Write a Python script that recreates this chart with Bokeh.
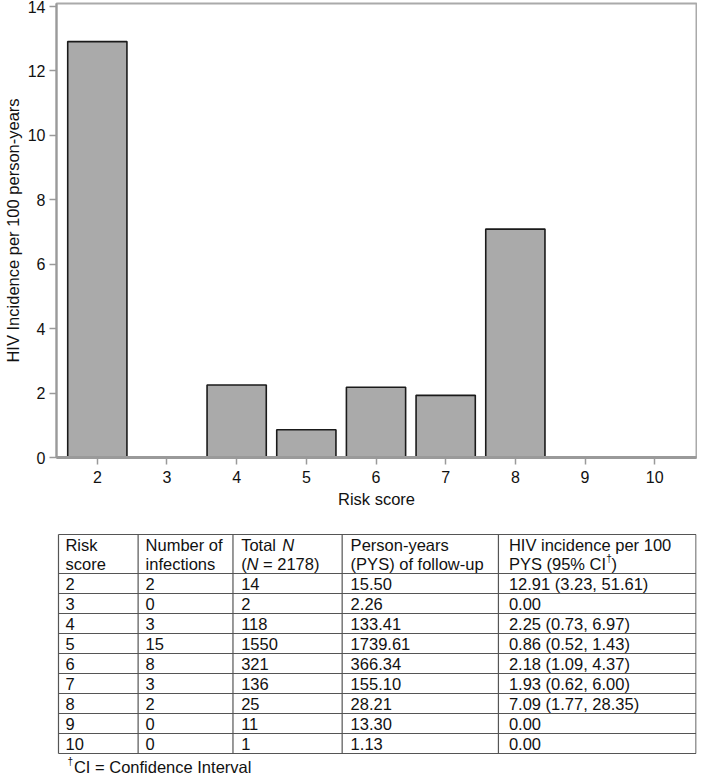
from bokeh.plotting import figure
from bokeh.models import Range1d, ColumnDataSource
from bokeh.layouts import column
from bokeh.embed import file_html
from bokeh.resources import INLINE
from bokeh.core.properties import value

# ---------------- data ----------------
risk_scores = [2, 3, 4, 5, 6, 7, 8, 9, 10]
incidence = [12.91, 0.0, 2.25, 0.86, 2.18, 1.93, 7.09, 0.0, 0.0]
y_ticks = [0, 2, 4, 6, 8, 10, 12, 14]

infections = [2, 0, 3, 15, 8, 3, 2, 0, 0]
total_n = [14, 2, 118, 1550, 321, 136, 25, 11, 1]
person_years = ["15.50", "2.26", "133.41", "1739.61", "366.34", "155.10", "28.21", "13.30", "1.13"]
incidence_ci = ["12.91 (3.23, 51.61)", "0.00", "2.25 (0.73, 6.97)", "0.86 (0.52, 1.43)",
                "2.18 (1.09, 4.37)", "1.93 (0.62, 6.00)", "7.09 (1.77, 28.35)", "0.00", "0.00"]

x_label = "Risk score"
y_label = "HIV Incidence per 100 person-years"
footnote = "CI = Confidence Interval"

FONT = "Liberation Sans"
TXT = "#111111"

# ---------------- chart ----------------
W = 697
LB, RB = 53, 1          # frame borders (figure px)
CH = 525
p = figure(width=W, height=CH, output_backend="svg", toolbar_location=None,
           x_range=Range1d(1.414, 10.6), y_range=Range1d(0, 14.093),
           min_border_left=LB, min_border_right=RB, min_border_top=3, min_border_bottom=68)

src = ColumnDataSource(dict(x=risk_scores, top=incidence))
p.vbar(x="x", top="top", bottom=0, width=0.85, source=src,
       fill_color="#aaaaaa", line_color="#1a1a1a", line_width=1.6)

p.xgrid.visible = False
p.ygrid.visible = False
p.xaxis.ticker = risk_scores
p.yaxis.ticker = y_ticks
p.axis.axis_line_color = "#9a9a9a"
p.xaxis.axis_line_width = 3
p.yaxis.axis_line_width = 2
p.axis.major_tick_line_color = "#9a9a9a"
p.axis.major_tick_line_width = 1.5
p.axis.major_tick_out = 7
p.axis.major_tick_in = 0
p.axis.minor_tick_line_color = None
p.axis.major_label_text_font = FONT
p.axis.major_label_text_font_size = "16px"
p.axis.major_label_text_color = TXT
p.yaxis.major_label_standoff = 4
p.xaxis.major_label_standoff = 6
p.axis.axis_label_text_font = FONT
p.axis.axis_label_text_font_size = "16.5px"
p.axis.axis_label_text_font_style = "normal"
p.axis.axis_label_text_color = TXT
p.xaxis.axis_label = x_label
p.yaxis.axis_label = y_label
p.xaxis.axis_label_standoff = 4
p.yaxis.axis_label_standoff = 3
p.outline_line_color = "#aaaaaa"
p.outline_line_width = 2

# ---------------- table (data coordinates = page pixels) ----------------
PAGE = 8
TH = 784 - PAGE - CH          # 251
y_top_page = PAGE + CH        # 533
t = figure(width=W, height=TH, output_backend="svg", toolbar_location=None,
           x_range=Range1d(PAGE + LB, PAGE + W - RB), y_range=Range1d(y_top_page + TH, y_top_page),
           x_axis_type=None, y_axis_type=None,
           min_border_left=LB, min_border_right=RB, min_border_top=0, min_border_bottom=0)
t.xgrid.visible = False
t.ygrid.visible = False
t.outline_line_color = None

col_edges = [63, 143, 238.3, 348, 505, 703.5]
col_x = [70, 150.5, 246.5, 356.5, 515.5]
top_y = 542
head_bottom = 581
row_h = 20
n_rows = len(risk_scores)
row_lines = [head_bottom + row_h * k for k in range(n_rows + 1)]
h_lines = [top_y] + row_lines
bottom_y = row_lines[-1]

t.segment(x0=[col_edges[0]] * len(h_lines), x1=[col_edges[-1]] * len(h_lines),
          y0=h_lines, y1=h_lines, line_color="#555555", line_width=1.2)
t.segment(x0=col_edges, x1=col_edges, y0=[top_y] * len(col_edges), y1=[bottom_y] * len(col_edges),
          line_color="#555555", line_width=1.2)

FS = 16.5
em = FS / 1000.0

def txt(x, y, s, style="normal", size=FS):
    t.text(x=[x], y=[y], text=[s], text_font=value(FONT), text_font_size=f"{size}px",
           text_font_style=style, text_color=TXT, text_align="left", text_baseline="middle")

h1, h2 = 552, 571
txt(col_x[0], h1, "Risk"); txt(col_x[0], h2, "score")
txt(col_x[1], h1, "Number of"); txt(col_x[1], h2, "infections")
txt(col_x[3], h1, "Person-years"); txt(col_x[3], h2, "(PYS) of follow-up")
# Total N (italic N)
txt(col_x[2], h1, "Total")
txt(col_x[2] + 2501 * em, h1, "N", style="italic")
txt(col_x[2], h2, "(")
txt(col_x[2] + 333 * em, h2, "N", style="italic")
txt(col_x[2] + (333 + 722 + 278) * em, h2, "= 2178)")
# HIV incidence header with superscript dagger
txt(col_x[4], h1, "HIV incidence per 100")
txt(col_x[4], h2, "PYS (95% CI")
txt(col_x[4] + 5891 * em + 0.5, h2 - 5, "\u2020", size=10)
txt(col_x[4] + 5891 * em + 6.0, h2, ")")

row_y = [head_bottom + row_h * i + row_h / 2 for i in range(n_rows)]
cols = [[str(v) for v in risk_scores], [str(v) for v in infections],
        [str(v) for v in total_n], person_years, incidence_ci]
for ci, vals in enumerate(cols):
    t.text(x=[col_x[ci]] * n_rows, y=row_y, text=vals, text_font=value(FONT),
           text_font_size=f"{FS}px", text_color=TXT, text_align="left", text_baseline="middle")

fy = 774
txt(72, fy - 5, "\u2020", size=10)
txt(78.5, fy, footnote)

layout = column(p, t)
open("out.html", "w").write(file_html(layout, INLINE))
